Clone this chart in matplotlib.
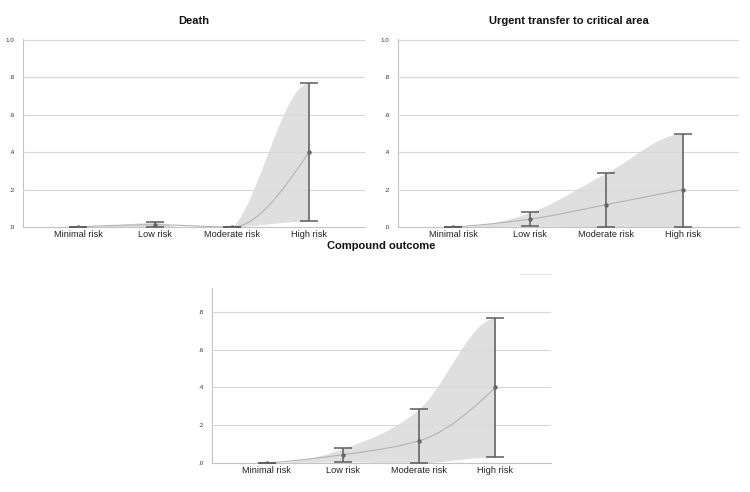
import numpy as np
import matplotlib.pyplot as plt
from matplotlib.ticker import FuncFormatter

plt.rcParams['font.family'] = ['Liberation Sans Narrow', 'Liberation Sans', 'DejaVu Sans']

categories = ['Minimal risk', 'Low risk', 'Moderate risk', 'High risk']

# Death
death_mean = [0.0, 0.012, 0.0, 0.40]
death_lo = [0.0, 0.0, 0.0, 0.032]
death_hi = [0.0, 0.025, 0.0, 0.772]

# Urgent transfer to critical area
transfer_mean = [0.0, 0.042, 0.12, 0.20]
transfer_lo = [0.0, 0.005, 0.0, 0.0]
transfer_hi = [0.0, 0.078, 0.29, 0.50]

# Compound outcome
compound_mean = [0.0, 0.044, 0.118, 0.40]
compound_lo = [0.0, 0.007, 0.0, 0.032]
compound_hi = [0.0, 0.077, 0.288, 0.767]


def slopes(y, kind):
    y = np.asarray(y, float)
    d = np.diff(y)
    m = np.zeros_like(y)
    if kind == 'band':
        # catmull-rom inside, flat at both ends
        for k in range(1, len(y) - 1):
            m[k] = (y[k + 1] - y[k - 1]) / 2
        return m
    for k in range(1, len(y) - 1):
        if d[k - 1] * d[k] > 0:
            m[k] = 2 / (1 / d[k - 1] + 1 / d[k])
    e0 = (3 * d[0] - d[1]) / 2
    m[0] = e0 if e0 * d[0] > 0 else 0
    e1 = (3 * d[-1] - d[-2]) / 2
    m[-1] = e1 if e1 * d[-1] > 0 else 0
    return m


def smooth(y, kind='line', n=60):
    y = np.asarray(y, float)
    m = slopes(y, kind)
    xs, ys = [], []
    for k in range(len(y) - 1):
        t = np.linspace(0, 1, n)
        h00 = 2 * t**3 - 3 * t**2 + 1
        h10 = t**3 - 2 * t**2 + t
        h01 = -2 * t**3 + 3 * t**2
        h11 = t**3 - t**2
        xs.append(k + t)
        ys.append(h00 * y[k] + h10 * m[k] + h01 * y[k + 1] + h11 * m[k + 1])
    return np.concatenate(xs), np.clip(np.concatenate(ys), 0, None)


def panel(ax, title, mean, lo, hi, ytop, pad=11):
    x = np.arange(len(categories))
    bx, blo = smooth(lo, 'band')
    _, bhi = smooth(hi, 'band')
    bhi = np.maximum(bhi, blo)
    ax.fill_between(bx, blo, bhi, color='#d8d8d8', alpha=0.8, lw=0, zorder=1)
    mx, my = smooth(mean)
    ax.plot(mx, my, color='#b4b4b4', lw=0.8, zorder=3)
    err = [np.array(mean) - np.array(lo), np.array(hi) - np.array(mean)]
    ax.errorbar(x, mean, yerr=err, fmt='o', ms=2.2, color='#666666', ecolor='#5c5c5c',
                elinewidth=1.1, capsize=6.3, capthick=1.1, zorder=4)
    ax.set_xlim(-0.72, 3.73)
    ax.set_ylim(0, ytop)
    ax.set_xticks(x)
    ax.set_xticklabels(categories, fontsize=6.6)
    ax.set_yticks(np.arange(0, ytop + 0.001, 0.2))
    ax.yaxis.set_major_formatter(FuncFormatter(lambda v, p: '1.0' if v >= 0.999 else ('%.1f' % v)[1:]))
    ax.tick_params(axis='y', labelsize=4.5, length=0, pad=6, labelcolor='#333333')
    ax.tick_params(axis='x', length=0, pad=2.5, labelcolor='#222222')
    ax.grid(axis='y', color='#d8d8d8', lw=0.8)
    ax.set_axisbelow(False)
    for s in ['top', 'right']:
        ax.spines[s].set_visible(False)
    for s in ['left', 'bottom']:
        ax.spines[s].set_color('#c4c4c4')
        ax.spines[s].set_linewidth(0.8)
    ax.set_title(title, fontsize=8, fontweight='bold', pad=pad, color='#111111')


fig = plt.figure(figsize=(7.5, 4.92), dpi=100)
ax1 = fig.add_axes([0.0307, 0.5386, 0.456, 0.382])
ax2 = fig.add_axes([0.5307, 0.5386, 0.4547, 0.382])
ax3 = fig.add_axes([0.2827, 0.0589, 0.452, 0.3557])

panel(ax1, 'Death', death_mean, death_lo, death_hi, 1.005)
panel(ax2, 'Urgent transfer to critical area', transfer_mean, transfer_lo, transfer_hi, 1.005)
panel(ax3, 'Compound outcome', compound_mean, compound_lo, compound_hi, 0.926, pad=28)
ax3.axhline(1.0, xmin=0.908, xmax=1.0, color='#e4e4e4', lw=0.8, clip_on=False)

fig.savefig('out.png', dpi=100)
